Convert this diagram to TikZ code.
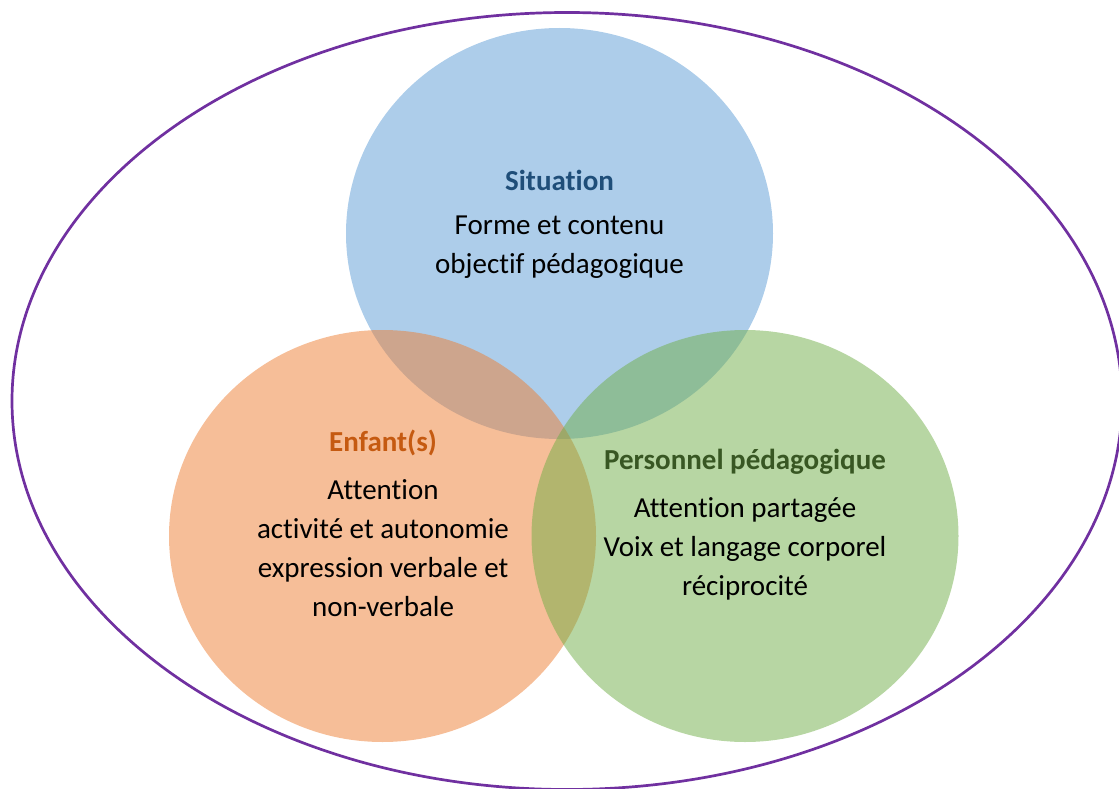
\documentclass[tikz,border=0pt]{standalone}
\usepackage{fontspec}
\setmainfont{Carlito}[Ligatures=NoCommon]
\definecolor{framepurple}{HTML}{7030A0}
\definecolor{situationblue}{HTML}{5B9BD5}
\definecolor{enfantorange}{HTML}{ED7D31}
\definecolor{personnelgreen}{HTML}{70AD47}
\definecolor{situationtitle}{HTML}{1F4E79}
\definecolor{enfanttitle}{HTML}{C55A11}
\definecolor{personneltitle}{HTML}{385723}
\begin{document}
\begin{tikzpicture}[x=1pt, y=-1pt,
    zone/.style={fill opacity=0.5},
    heading/.style={font=\bfseries\fontsize{29}{34}\selectfont},
    body/.style={align=center, font=\fontsize{29}{39}\selectfont}]
  \useasboundingbox (0, 0) rectangle (1119, 789);
  % outer frame
  \draw [framepurple, line width=2.7pt] (567, 401) circle [x radius=555pt, y radius=388.5pt];
  % the three zones
  \fill [zone, situationblue] (559.5, 233.5) circle [x radius=213.5pt, y radius=205.5pt];
  \fill [zone, enfantorange] (382.5, 536) circle [x radius=213.5pt, y radius=206pt];
  \fill [zone, personnelgreen] (745, 536) circle [x radius=213.5pt, y radius=206pt];
  % texts
  \node [heading, text=situationtitle] (situation) at (559.5, 180) {Situation};
  \node [body] (situationbody) at (559.5, 247) {Forme et contenu\\objectif pédagogique};
  \node [heading, text=enfanttitle] (enfant) at (383, 443) {Enfant(s)};
  \node [body] (enfantbody) at (383, 548.5) {Attention\\activité et autonomie\\expression verbale et\\non-verbale};
  \node [heading, text=personneltitle] (personnel) at (745, 462) {Personnel pédagogique};
  \node [body] (personnelbody) at (745, 548.5) {Attention partagée\\Voix et langage corporel\\réciprocité};
\end{tikzpicture}
\end{document}
